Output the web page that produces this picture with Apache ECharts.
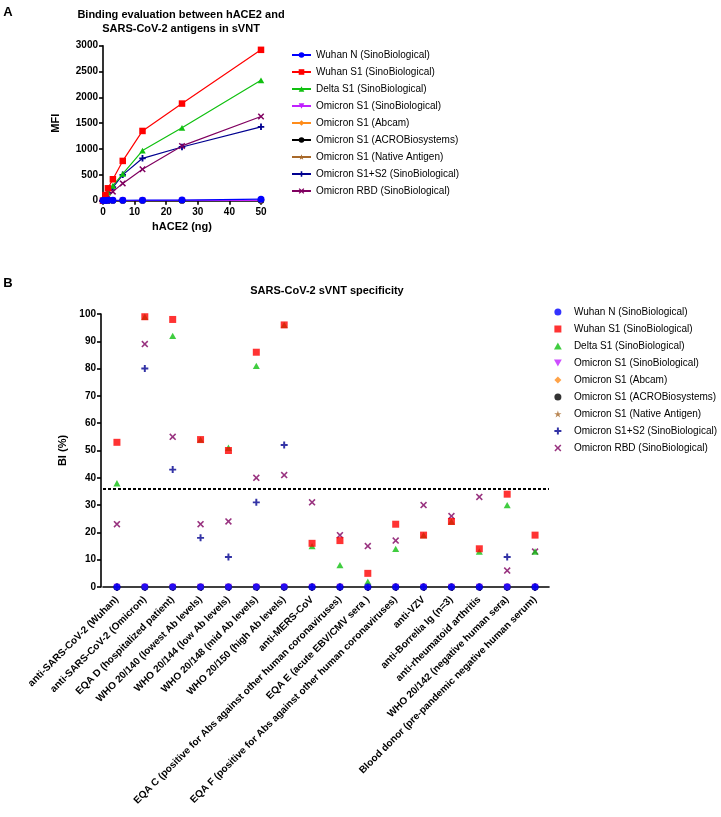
<!DOCTYPE html>
<html>
<head>
<meta charset="utf-8">
<script src="https://cdn.jsdelivr.net/npm/echarts@6/dist/echarts.min.js"></script>
<style>
html,body{margin:0;padding:0;background:#fff;}
#c{width:721px;height:817px;}
</style>
</head>
<body>
<div id="c"></div>
<script>
// ---------- Data: panel A ----------
const hace2 = [0, 0.78, 1.56, 3.125, 6.25, 12.5, 25, 50];
const wuhanN_A = [5, 6, 7, 8, 9, 10, 12, 30];
const wuhanS1_A = [0, 110, 240, 415, 770, 1350, 1880, 2920];
const deltaS1_A = [0, 70, 155, 290, 520, 970, 1410, 2330];
const omiSino_A = [0, 1, 2, 2, 3, 4, 5, 6];
const omiAbcam_A = [0, 1, 1, 2, 2, 3, 4, 5];
const omiAcro_A = [0, 1, 1, 2, 2, 3, 3, 4];
const omiNative_A = [0, 1, 1, 1, 2, 2, 3, 4];
const omiS1S2_A = [0, 80, 150, 260, 500, 820, 1040, 1430];
const omiRBD_A = [0, 50, 100, 175, 335, 610, 1060, 1630];

// ---------- Data: panel B ----------
const categoriesB = [
  'anti-SARS-CoV-2 (Wuhan)',
  'anti-SARS-CoV-2 (Omicron)',
  'EQA D (hospitalized patient)',
  'WHO 20/140 (lowest Ab levels)',
  'WHO 20/144 (low Ab levels)',
  'WHO 20/148 (mid Ab levels)',
  'WHO 20/150 (high Ab levels)',
  'anti-MERS-CoV',
  'EQA C (positive for Abs against other human coronaviruses)',
  'EQA E (acute EBV/CMV sera )',
  'EQA F (positive for Abs against other human coronaviruses)',
  'anti-VZV',
  'anti-Borrelia Ig (n=3)',
  'anti-rheumatoid arthritis',
  'WHO 20/142 (negative human sera)',
  'Blood donor (pre-pandemic negative human serum)'
];
const wuhanN_B = [0,0,0,0,0,0,0,0,0,0,0,0,0,0,0,0];
const wuhanS1_B = [53,99,98,54,50,86,96,16,17,5,23,19,24,14,34,19];
const deltaS1_B = [38,99,92,54,51,81,96,15,8,2,14,19,24,13,30,13];
const omiSino_B = [0,0,0,0,0,0,0,0,0,0,0,0,0,0,0,0];
const omiAbcam_B = [0,0,0,0,0,0,0,0,0,0,0,0,0,0,0,0];
const omiAcro_B = [0,0,0,0,0,0,0,0,0,0,0,0,0,0,0,0];
const omiNative_B = [0,0,0,0,0,0,0,0,0,0,0,0,0,0,0,0];
const omiS1S2_B = [0,80,43,18,11,31,52,0,0,0,0,0,0,0,11,0];
const omiRBD_B = [23,89,55,23,24,40,41,31,19,15,17,30,26,33,6,13];
const cutoffB = 36;

// ---------- Series meta ----------
const names = [
  'Wuhan N (SinoBiological)',
  'Wuhan S1 (SinoBiological)',
  'Delta S1 (SinoBiological)',
  'Omicron S1 (SinoBiological)',
  'Omicron S1 (Abcam)',
  'Omicron S1 (ACROBiosystems)',
  'Omicron S1 (Native Antigen)',
  'Omicron S1+S2 (SinoBiological)',
  'Omicron RBD (SinoBiological)'
];
const colors = ['#0000FF','#FF0000','#10C010','#C020FF','#FF8C1A','#000000','#A8692A','#000090','#800060'];
const PLUS = 'path://M3.6,0H6.4V3.6H10V6.4H6.4V10H3.6V6.4H0V3.6H3.6Z';
const XS = 'path://M1.6,0L5,3.4L8.4,0L10,1.6L6.6,5L10,8.4L8.4,10L5,6.6L1.6,10L0,8.4L3.4,5L0,1.6Z';
const DOWN = 'path://M0,0L10,0L5,9Z';
const UP = 'path://M5,0L10,9L0,9Z';
const SQUARE = 'path://M0,0H10V10H0Z';
const DIAMOND = 'path://M5,0L10,5L5,10L0,5Z';
const STAR = 'path://M5,0L6.2,3.6L10,3.6L6.9,5.8L8.1,9.5L5,7.2L1.9,9.5L3.1,5.8L0,3.6L3.8,3.6Z';
const symbols = ['circle',SQUARE,UP,DOWN,DIAMOND,'circle',STAR,PLUS,XS];
const dataA = [wuhanN_A, wuhanS1_A, deltaS1_A, omiSino_A, omiAbcam_A, omiAcro_A, omiNative_A, omiS1S2_A, omiRBD_A];
const dataB = [wuhanN_B, wuhanS1_B, deltaS1_B, omiSino_B, omiAbcam_B, omiAcro_B, omiNative_B, omiS1S2_B, omiRBD_B];
// draw order (later on top)
const drawOrder = [6,5,4,3,7,8,2,1,0];

const FONT = 'Liberation Sans, Arial, sans-serif';
const axisLineStyle = {color:'#000', width:1.6};
const boldLabel = {color:'#000', fontFamily:FONT, fontWeight:'bold', fontSize:10};

const series = [];
drawOrder.forEach(i => {
  series.push({
    name: names[i],
    type: 'line',
    xAxisIndex: 0, yAxisIndex: 0,
    data: hace2.map((x, k) => [x, dataA[i][k]]),
    symbol: symbols[i],
    symbolSize: i === 0 ? 7 : 6.5,
    symbolKeepAspect: true,
    itemStyle: {color: colors[i]},
    lineStyle: {color: colors[i], width: 1.2},
    z: 2
  });
});
drawOrder.forEach(i => {
  series.push({
    name: 'B|' + names[i],
    type: 'scatter',
    xAxisIndex: 1, yAxisIndex: 1,
    data: dataB[i],
    symbol: symbols[i],
    symbolSize: 7,
    symbolKeepAspect: true,
    itemStyle: {color: colors[i]},
    z: 2
  });
});
series.push({
  name: 'cutoff', type: 'line', xAxisIndex: 1, yAxisIndex: 1, data: [],
  markLine: {
    silent: true, symbol: 'none', label: {show: false},
    lineStyle: {color: '#000', width: 2, type: [3, 2]},
    data: [{yAxis: cutoffB}]
  }
});

const option = {
  animation: false,
  backgroundColor: '#fff',
  textStyle: {fontFamily: FONT},
  graphic: [
    {type:'text', x:8, y:12, style:{text:'A', font:'bold 13px ' + FONT, fill:'#000', align:'center', verticalAlign:'middle'}},
    {type:'text', x:181, y:22, style:{text:'Binding evaluation between hACE2 and\nSARS-CoV-2 antigens in sVNT', font:'bold 11px ' + FONT, lineHeight:14.5, fill:'#000', align:'center', verticalAlign:'middle'}},
    {type:'text', x:8, y:283, style:{text:'B', font:'bold 13px ' + FONT, fill:'#000', align:'center', verticalAlign:'middle'}},
    {type:'text', x:327, y:291, style:{text:'SARS-CoV-2 sVNT specificity', font:'bold 11px ' + FONT, fill:'#000', align:'center', verticalAlign:'middle'}}
  ],
  grid: [
    {left:103, top:45.7, width:158, height:155},
    {left:103, top:314, width:446, height:273}
  ],
  xAxis: [
    {
      type:'value', gridIndex:0, min:0, max:50, interval:10,
      name:'hACE2 (ng)', nameLocation:'middle', nameGap:21,
      nameTextStyle:{color:'#000', fontFamily:FONT, fontWeight:'bold', fontSize:11},
      axisLine:{show:true, lineStyle:axisLineStyle},
      axisTick:{show:true, length:4, lineStyle:axisLineStyle},
      axisLabel:Object.assign({margin:7, formatter: v => String(v)}, boldLabel),
      splitLine:{show:false}
    },
    {
      type:'category', gridIndex:1, data:categoriesB, boundaryGap:true,
      axisLine:{show:true, lineStyle:axisLineStyle},
      axisTick:{show:true, alignWithLabel:true, length:4, lineStyle:axisLineStyle},
      axisLabel:Object.assign({interval:0, rotate:45, margin:11}, boldLabel),
      splitLine:{show:false}
    }
  ],
  yAxis: [
    {
      type:'value', gridIndex:0, min:0, max:3000, interval:500,
      name:'MFI', nameLocation:'middle', nameGap:42,
      nameTextStyle:{color:'#000', fontFamily:FONT, fontWeight:'bold', fontSize:11},
      axisLine:{show:true, lineStyle:axisLineStyle},
      axisTick:{show:true, length:4, lineStyle:axisLineStyle},
      axisLabel:Object.assign({margin:5, formatter: v => String(v)}, boldLabel),
      splitLine:{show:false}
    },
    {
      type:'value', gridIndex:1, min:0, max:100, interval:10, offset:2,
      name:'BI (%)', nameLocation:'middle', nameGap:20,
      nameTextStyle:{color:'#000', fontFamily:FONT, fontWeight:'bold', fontSize:11},
      axisLine:{show:true, lineStyle:axisLineStyle},
      axisTick:{show:true, length:4, lineStyle:axisLineStyle},
      axisLabel:Object.assign({margin:5, formatter: v => String(v)}, boldLabel),
      splitLine:{show:false}
    }
  ],
  legend: [
    {
      orient:'vertical', left:291, top:49, padding:0, itemWidth:19, itemHeight:7, itemGap:5,
      selectedMode:false, data:names, symbolKeepAspect:true,
      textStyle:{color:'#000', fontFamily:FONT, fontSize:10, lineHeight:12}
    },
    {
      orient:'vertical', right:4, top:306, padding:0, itemWidth:22, itemHeight:7, itemGap:5,
      selectedMode:false, data:names.map(n => 'B|' + n), symbolKeepAspect:true,
      formatter: n => n.slice(2),
      textStyle:{color:'#000', fontFamily:FONT, fontSize:10, lineHeight:12}
    }
  ],
  series: series
};

const chart = echarts.init(document.getElementById('c'), null, {renderer:'canvas'});
chart.setOption(option);
</script>
</body>
</html>
